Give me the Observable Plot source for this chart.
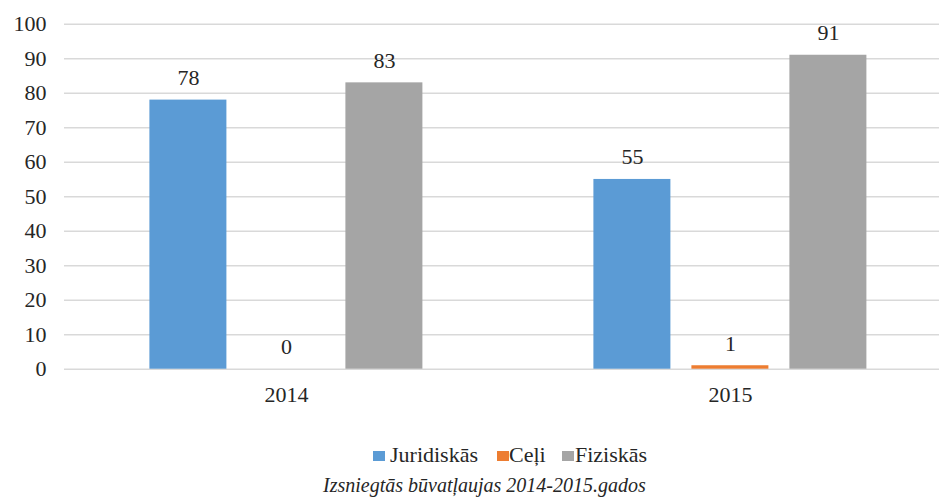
<!DOCTYPE html>
<html>
<head>
<meta charset="utf-8">
<script src="https://cdn.jsdelivr.net/npm/d3@7"></script>
<script src="https://cdn.jsdelivr.net/npm/@observablehq/plot@0.6"></script>
<style>
  html, body { margin: 0; padding: 0; background: #fff; overflow: hidden; width: 939px; height: 499px;
               font-family: 'Liberation Serif'; }
  #chart svg { display: block; }
  .legend { position: relative; height: 24px; margin-top: 13px;
            font-family: 'Liberation Serif'; font-size: 22px; line-height: 24px; color: #262626; }
  .legend .sw { position: absolute; top: 8px; width: 12px; height: 10px; }
  .legend .lb { position: absolute; top: 0; white-space: nowrap; }
  .caption { height: 24px; line-height: 24px; margin-top: 6px; padding-left: 323px;
             font-family: 'Liberation Serif'; font-style: italic; font-size: 20px; color: #262626; white-space: nowrap; }
</style>
</head>
<body>
<div id="chart"></div>
<script>
const years = ["2014", "2015"];
const series = ["Juridiskās", "Ceļi", "Fiziskās"];
const juridiskas = [78, 55];
const celi = [0, 1];
const fiziskas = [83, 91];
const colors = ["#5B9BD5", "#ED7D31", "#A5A5A5"];
const yTicks = [0, 10, 20, 30, 40, 50, 60, 70, 80, 90, 100];
const captionText = "Izsniegtās būvatļaujas 2014-2015.gados";

const seriesValues = [juridiskas, celi, fiziskas];
const data = years.flatMap((year, i) =>
  series.map((s, j) => ({ year, series: s, value: seriesValues[j][i] }))
);

const textColor = "#262626";

const plot = Plot.plot({
  width: 939,
  height: 430,
  marginLeft: 63.6,
  marginRight: -14,
  marginTop: 23.7,
  marginBottom: 61.3,
  style: { fontFamily: "'Liberation Serif'", fontSize: "22px", color: textColor, background: "#fff" },
  fx: { domain: years, padding: 0, label: null },
  x: { domain: series, paddingInner: 0.212, paddingOuter: 0.867, axis: null },
  y: { domain: [0, 100], axis: null },
  color: { domain: series, range: colors },
  marks: [
    Plot.gridY(yTicks, { stroke: "#d9d9d9", strokeOpacity: 1, strokeWidth: 1.5 }),
    Plot.axisY(yTicks, { tickSize: 0, tickPadding: 18, label: null, fontSize: 22, fill: textColor }),
    Plot.barY(data, { fx: "year", x: "series", y: "value", fill: "series" }),
    Plot.text(data, { fx: "year", x: "series", y: "value", text: d => String(d.value),
      lineAnchor: "bottom", dy: -15, fontSize: 22, fill: textColor }),
    Plot.axisFx({ anchor: "bottom", tickSize: 0, tickPadding: 17, label: null, fontSize: 22, fill: textColor })
  ]
});
document.getElementById("chart").appendChild(plot);

// legend (HTML, below the SVG)
const legend = document.createElement("div");
legend.className = "legend";
const swatchLeft = [373, 497, 562];
const labelLeft = [390, 509, 575];
series.forEach((s, j) => {
  const sw = document.createElement("span");
  sw.className = "sw";
  sw.style.background = colors[j];
  sw.style.left = swatchLeft[j] + "px";
  const label = document.createElement("span");
  label.className = "lb";
  label.style.left = labelLeft[j] + "px";
  label.textContent = s;
  legend.appendChild(sw);
  legend.appendChild(label);
});
document.body.appendChild(legend);

const caption = document.createElement("div");
caption.className = "caption";
caption.textContent = captionText;
document.body.appendChild(caption);
</script>
</body>
</html>
